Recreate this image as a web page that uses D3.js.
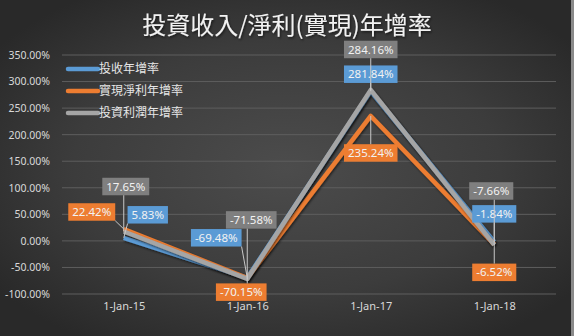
<!DOCTYPE html>
<html>
<head>
<meta charset="utf-8">
<script src="https://cdn.jsdelivr.net/npm/d3@7/dist/d3.min.js"></script>
<style>
  html, body { margin: 0; padding: 0; background: #2b2b2b; }
  svg { display: block; }
</style>
</head>
<body>
<svg id="chart" width="574" height="336"></svg>
<script>
// Year-over-year growth rates (%)
const categories = ["1-Jan-15", "1-Jan-16", "1-Jan-17", "1-Jan-18"];
const seriesNames = ["投收年增率", "實現淨利年增率", "投資利潤年增率"];
const revenueGrowth = [5.83, -69.48, 281.84, -1.84];
const netProfitGrowth = [22.42, -70.15, 235.24, -6.52];
const profitGrowth = [17.65, -71.58, 284.16, -7.66];
const yTicks = [-100, -50, 0, 50, 100, 150, 200, 250, 300, 350];
const titleText = "投資收入/淨利(實現)年增率";

const colors = ["#5b9bd5", "#ed7d31", "#a5a5a5"];
const boxColors = ["#5b9bd5", "#ed7d31", "#7f7f7f"];
const series = [revenueGrowth, netProfitGrowth, profitGrowth].map((v, i) => ({
  name: seriesNames[i], values: v, color: colors[i], box: boxColors[i]
}));

// label box offsets from each data point [series][category] -> [dx, dy]
const labelOffsets = [
  [[24, -23], [-31, -40], [0, -17], [0, -28]],
  [[-32, -17], [-6, 14], [0, 37], [0, 28]],
  [[2, -45], [4, -59], [0, -40.5], [-3, -54]]
];

const svg = d3.select("#chart");
const W = 574, H = 336;
const plot = { left: 62, right: 556, top: 55, bottom: 294 };

const defs = svg.append("defs");
const bg = defs.append("radialGradient").attr("id", "bg")
  .attr("cx", "50%").attr("cy", "50%").attr("r", "62%");
bg.append("stop").attr("offset", "0%").attr("stop-color", "#4c4c4c");
bg.append("stop").attr("offset", "60%").attr("stop-color", "#3c3c3c");
bg.append("stop").attr("offset", "100%").attr("stop-color", "#292929");

const shadow = defs.append("filter").attr("id", "shadow")
  .attr("x", "-10%").attr("y", "-10%").attr("width", "120%").attr("height", "130%");
shadow.append("feDropShadow").attr("dx", 1).attr("dy", 1.5).attr("stdDeviation", 1.2)
  .attr("flood-color", "#000").attr("flood-opacity", 0.55);

svg.append("rect").attr("width", W).attr("height", H).attr("fill", "url(#bg)");
svg.append("rect").attr("x", 571).attr("y", 0).attr("width", 3).attr("height", H).attr("fill", "#8a8a8a");

const x = d3.scalePoint().domain(categories).range([plot.left, plot.right]).padding(0.5);
const y = d3.scaleLinear().domain([-100, 350]).range([plot.bottom, plot.top]);

// gridlines
svg.append("g").selectAll("line").data(yTicks).join("line")
  .attr("x1", plot.left).attr("x2", plot.right)
  .attr("y1", d => y(d)).attr("y2", d => y(d))
  .attr("stroke", "#5e5e5e").attr("stroke-width", 1);

// y axis
const yAxis = svg.append("g").attr("transform", `translate(${plot.left - 12},0)`)
  .call(d3.axisLeft(y).tickValues(yTicks).tickSize(0).tickPadding(0)
    .tickFormat(d => d.toFixed(2) + "%"));
yAxis.select(".domain").remove();
yAxis.selectAll("text").attr("fill", "#d9d9d9")
  .style("font-family", "'Noto Sans', 'Open Sans', sans-serif").style("font-size", "10.5px");

// x axis
const xAxis = svg.append("g").attr("transform", `translate(0,${plot.bottom + 8})`)
  .call(d3.axisBottom(x).tickSize(0).tickPadding(0));
xAxis.select(".domain").remove();
xAxis.selectAll("text").attr("fill", "#d9d9d9").attr("dy", "0.71em")
  .style("font-family", "'Noto Sans', 'Open Sans', sans-serif").style("font-size", "11px");

// title
svg.append("text").attr("x", W / 2).attr("y", 34).attr("text-anchor", "middle")
  .attr("fill", "#f2f2f2").attr("filter", "url(#shadow)")
  .style("font-family", "'Noto Sans CJK TC', 'Noto Sans CJK SC', sans-serif")
  .style("font-size", "24px").text(titleText);

// lines
const line = d3.line().x((d, i) => x(categories[i])).y(d => y(d));
svg.append("g").selectAll("path").data(series).join("path")
  .attr("d", d => line(d.values))
  .attr("fill", "none").attr("stroke", d => d.color).attr("stroke-width", 4.5)
  .attr("stroke-linejoin", "round").attr("stroke-linecap", "butt")
  .attr("filter", "url(#shadow)");

// legend
const legend = svg.append("g");
series.forEach((s, i) => {
  const ly = 69 + i * 22;
  legend.append("line").attr("x1", 68).attr("x2", 98).attr("y1", ly).attr("y2", ly)
    .attr("stroke", s.color).attr("stroke-width", 4.5).attr("stroke-linecap", "round");
  legend.append("text").attr("x", 99).attr("y", ly).attr("dy", "0.36em")
    .attr("fill", "#e6e6e6")
    .style("font-family", "'Noto Sans CJK TC', 'Noto Sans CJK SC', sans-serif")
    .style("font-size", "12px").text(s.name);
});

// data labels with leader lines
const labelLayer = svg.append("g");
const leaderLayer = svg.append("g");
series.forEach((s, si) => {
  s.values.forEach((v, ci) => {
    const px = x(categories[ci]), py = y(v);
    const [dx, dy] = labelOffsets[si][ci];
    const cx = px + dx, cy = py + dy;
    const t = labelLayer.append("text").attr("x", cx).attr("y", cy).attr("dy", "0.36em")
      .attr("text-anchor", "middle").attr("fill", "#f2f2f2")
      .style("font-family", "'Noto Sans', 'Open Sans', sans-serif").style("font-size", "11.5px")
      .text(v.toFixed(2) + "%");
    const bw = t.node().getComputedTextLength() + 8, bh = 17.5;
    const bx = cx - bw / 2, by = cy - bh / 2;
    labelLayer.insert("rect", () => t.node())
      .attr("x", bx).attr("y", by).attr("width", bw).attr("height", bh).attr("fill", s.box);
    // nearest point on the box to the data point
    const nx = Math.max(bx, Math.min(px, bx + bw));
    const ny = Math.max(by, Math.min(py, by + bh));
    if (Math.hypot(nx - px, ny - py) > 4) {
      leaderLayer.append("line").attr("x1", nx).attr("y1", ny).attr("x2", px).attr("y2", py)
        .attr("stroke", "#c8c8c8").attr("stroke-width", 1);
    }
  });
});
</script>
</body>
</html>
